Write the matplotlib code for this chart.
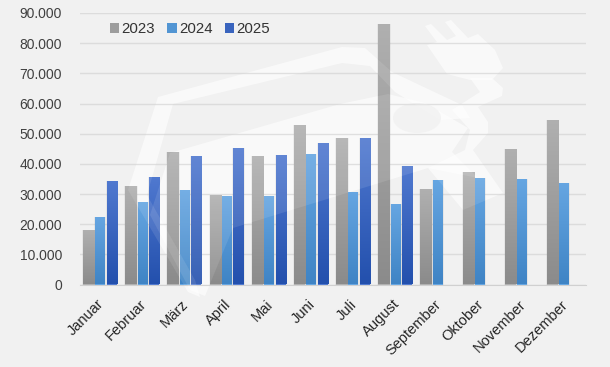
import matplotlib
matplotlib.use("Agg")
import matplotlib.pyplot as plt
import numpy as np
from matplotlib.colors import LinearSegmentedColormap
from matplotlib.patches import Ellipse, Patch, Polygon
from matplotlib.ticker import FuncFormatter
from matplotlib.transforms import ScaledTranslation

plt.rcParams['font.family'] = ['Liberation Sans', 'DejaVu Sans']

monate = ["Januar", "Februar", "März", "April", "Mai", "Juni", "Juli", "August",
          "September", "Oktober", "November", "Dezember"]
werte_2023 = [18000, 32500, 44000, 29700, 42700, 53000, 48500, 86500, 31500, 37300, 44800, 54500]
werte_2024 = [22300, 27300, 31200, 29500, 29500, 43300, 30700, 26800, 34500, 35300, 35000, 33500]
werte_2025 = [34300, 35800, 42500, 45300, 43000, 47000, 48500, 39200]

W, H = 610, 367
BG = '#f1f1f1'

# (jahr, werte, versatz, breite, farbe oben, farbe unten)
reihen = [("2023", werte_2023, -0.29, 0.27, '#b0b0b0', '#8b8b8b'),
          ("2024", werte_2024, -0.015, 0.235, '#66a6e2', '#3f84c5'),
          ("2025", werte_2025, 0.26, 0.24, '#5079d0', '#2350ad')]

fig = plt.figure(figsize=(W / 100, H / 100), dpi=100, facecolor=BG)
ax = fig.add_axes([80 / W, 1 - 284.5 / H, 506 / W, 271.5 / H])
ax.set_facecolor('none')


def px(punkte):
    # Pixel vom Bild nach Figurenanteil
    return [(x / W, 1 - y / H) for x, y in punkte]


# Wasserzeichen: Haus mit Stecker
ring = [(158, 97), (342, 47), (365, 48), (392, 72), (430, 90), (462, 105), (470, 118), (440, 120),
        (395, 92), (370, 66), (342, 63), (173, 104), (147, 195), (195, 280), (200, 297), (188, 292),
        (128, 190)]
fuellung = [(170, 153), (340, 104), (388, 94), (425, 103), (468, 128), (452, 152), (478, 178),
            (428, 168), (233, 228), (205, 296), (190, 290), (150, 215)]
stecker = [(427, 45), (437, 42), (425, 26), (431, 24), (447, 40), (456, 36), (445, 22), (451, 20),
           (468, 38), (478, 34), (495, 50), (503, 68), (492, 80), (470, 80), (447, 74)]
kabel = [(470, 78), (492, 78), (503, 88), (502, 96), (478, 107), (488, 122), (488, 133), (473, 150),
         (503, 193), (463, 210), (428, 168), (465, 150), (470, 130), (452, 110), (480, 92)]


def wasserzeichen(alpha, z):
    for form in (ring, fuellung, stecker, kabel):
        fig.add_artist(Polygon(px(form), closed=True, transform=fig.transFigure,
                               facecolor='white', edgecolor='none', alpha=alpha, zorder=z))


wasserzeichen(0.6, -2)
fig.add_artist(Ellipse((417 / W, 1 - 118 / H), 48 / W, 30 / H, transform=fig.transFigure,
                       facecolor=BG, edgecolor='none', zorder=-1))

x = np.arange(len(monate))
griff = []
verlauf = np.linspace(0, 1, 128).reshape(-1, 1)
for jahr, werte, versatz, breite, oben, unten in reihen:
    pos = x[:len(werte)] + versatz
    karte = LinearSegmentedColormap.from_list(jahr, [oben, unten])
    ax.bar(pos, werte, width=breite + 0.05, color='#808080', alpha=0.10, zorder=2)
    balken = ax.bar(pos, werte, width=breite, color=oben, zorder=3)
    for b in balken:
        bild = ax.imshow(verlauf, cmap=karte, aspect='auto', zorder=3.1, interpolation='bilinear',
                         extent=(b.get_x(), b.get_x() + b.get_width(), 0, b.get_height()))
        bild.set_clip_path(b)
    griff.append(Patch(facecolor=karte(0.5), label=jahr))

ax.set_xlim(-0.5, len(monate) - 0.5)
ax.set_ylim(0, 90000)
ax.set_yticks(np.arange(0, 90001, 10000))
ax.yaxis.set_major_formatter(FuncFormatter(lambda v, _: f"{int(v):,}".replace(",", ".")))
ax.grid(axis='y', color='#dcdcdc', lw=1.0, zorder=1)
ax.set_axisbelow(True)
ax.tick_params(axis='both', length=0)
ax.tick_params(axis='y', labelsize=10, labelcolor='#404040', pad=13)
ax.set_xticks(x)
ax.set_xticklabels(monate, rotation=45, ha='right', rotation_mode='anchor',
                   fontsize=10.5, color='#262626')
ax.tick_params(axis='x', pad=9)
versatz_text = ScaledTranslation(-4 / 100, 0, fig.dpi_scale_trans)
for t in ax.get_xticklabels():
    t.set_transform(t.get_transform() + versatz_text)
for s in ('top', 'left', 'right'):
    ax.spines[s].set_visible(False)
ax.spines['bottom'].set_color('#d0d0d0')

ax.legend(handles=griff, ncol=3, frameon=False, fontsize=10.8, labelcolor='#333333',
          loc='upper left', bbox_to_anchor=(30 / 506, 1 - 9 / 271.5), borderaxespad=0, borderpad=0,
          handlelength=0.62, handleheight=0.62, handletextpad=0.15, columnspacing=0.82)

wasserzeichen(0.10, 5)

fig.savefig("out.png", dpi=100, facecolor=BG)
